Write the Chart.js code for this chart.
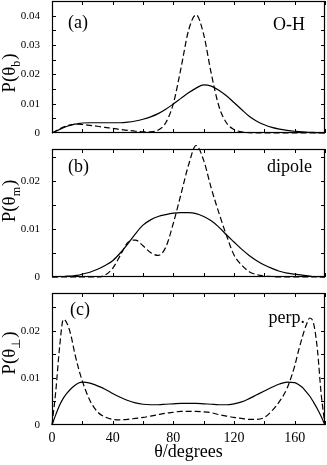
<!DOCTYPE html>
<html>
<head>
<meta charset="utf-8">
<script src="https://cdn.jsdelivr.net/npm/chart.js@4.4.1/dist/chart.umd.min.js"></script>
<style>
  html, body { margin: 0; padding: 0; background: #fff; }
  #wrap { position: relative; width: 327px; height: 465px; overflow: hidden; }
  #wrap canvas { position: absolute; left: 0; }
</style>
</head>
<body>
<div id="wrap">
  <canvas id="panelA" width="327" height="140" style="top:0px"></canvas>
  <canvas id="panelB" width="327" height="141" style="top:143px"></canvas>
  <canvas id="panelC" width="327" height="175" style="top:290px"></canvas>
</div>
<script>
// angle grid (degrees), finer near the ends where the perp. peaks sit
const theta = [0, 2.5, 5, 7.5, 10, 12.5, 15, 17.5, 20,
  25, 30, 35, 40, 45, 50, 55, 60, 65, 70,
  75, 80, 85, 90, 95, 100, 105, 110, 115, 120,
  125, 130, 135, 140, 145, 150, 155,
  160, 162.5, 165, 167.5, 170, 172.5, 175, 177.5, 180];

// (a) O-H
const ohSolid = [0, 0.0006, 0.0012, 0.0018, 0.0023, 0.0027, 0.0030, 0.0032, 0.0034,
  0.0035, 0.0035, 0.0035, 0.0035, 0.0035, 0.0037, 0.0041, 0.0047, 0.0055, 0.0066,
  0.0081, 0.0099, 0.0118, 0.0137, 0.0153, 0.0164, 0.0160, 0.0146, 0.0127, 0.0104,
  0.0080, 0.0057, 0.0040, 0.0028, 0.0019, 0.0013, 0.0009,
  0.0006, 0.0005, 0.0004, 0.0003, 0.0002, 0.0002, 0.0001, 0.0001, 0];
const ohDashed = [0, 0.0007, 0.0014, 0.0020, 0.0025, 0.0028, 0.0030, 0.0030, 0.0029,
  0.0026, 0.0023, 0.0019, 0.0016, 0.0012, 0.0009, 0.0006, 0.0004, 0.0004, 0.0010,
  0.0035, 0.0100, 0.0220, 0.0349, 0.0403, 0.0336, 0.0203, 0.0092, 0.0035, 0.0012,
  0.0004, 0.0001, 0, 0, 0, 0, 0,
  0, 0, 0, 0, 0, 0, 0, 0, 0];

// (b) dipole
const dipoleSolid = [0, 0, 0.0001, 0.0001, 0.0002, 0.0002, 0.0003, 0.0004, 0.0006,
  0.0010, 0.0016, 0.0024, 0.0034, 0.0050, 0.0069, 0.0090, 0.0108, 0.0119, 0.0126,
  0.0130, 0.0133, 0.0134, 0.0134, 0.0132, 0.0126, 0.0117, 0.0104, 0.0088, 0.0073,
  0.0058, 0.0045, 0.0034, 0.0025, 0.0018, 0.0012, 0.0008,
  0.0006, 0.0005, 0.0004, 0.0003, 0.0002, 0.0001, 0.0001, 0, 0];
const dipoleDashed = [0, 0, 0, 0, 0, 0, 0, 0, 0,
  0, 0, 0.0004, 0.0018, 0.0045, 0.0072, 0.0077, 0.0065, 0.0051, 0.0045,
  0.0062, 0.0112, 0.0172, 0.0233, 0.0274, 0.0243, 0.0185, 0.0134, 0.0087, 0.0046,
  0.0025, 0.0011, 0.0005, 0.0002, 0.0001, 0, 0,
  0, 0, 0, 0, 0, 0, 0, 0, 0];

// (c) perp.
const perpSolid = [0, 0.0022, 0.0042, 0.0057, 0.0068, 0.0077, 0.0084, 0.0089, 0.0091,
  0.0089, 0.0083, 0.0076, 0.0067, 0.0059, 0.0052, 0.0047, 0.0044, 0.0043, 0.0043,
  0.0044, 0.0045, 0.0046, 0.0046, 0.0046, 0.0045, 0.0044, 0.0043, 0.0043, 0.0045,
  0.0049, 0.0056, 0.0064, 0.0072, 0.0080, 0.0087, 0.0091,
  0.0090, 0.0086, 0.0080, 0.0071, 0.0061, 0.0048, 0.0034, 0.0018, 0];
const perpDashed = [0, 0.0072, 0.0165, 0.0224, 0.0215, 0.0190, 0.0152, 0.0120, 0.0093,
  0.0052, 0.0028, 0.0017, 0.0012, 0.0011, 0.0012, 0.0014, 0.0016, 0.0019, 0.0022,
  0.0025, 0.0027, 0.0029, 0.0029, 0.0029, 0.0028, 0.0026, 0.0022, 0.0019, 0.0016,
  0.0014, 0.0012, 0.0012, 0.0016, 0.0030, 0.0050, 0.0078,
  0.0125, 0.0157, 0.0186, 0.0211, 0.0227, 0.0215, 0.0160, 0.0065, 0];

// tick values
const xTickLabels = [0, 40, 80, 120, 160];
const xTickMarks = [0, 20, 40, 60, 80, 100, 120, 140, 160, 180];
const yTicksA = [0, 0.01, 0.02, 0.03, 0.04];
const yTicksBC = [0, 0.01, 0.02];
const yMarksA = [0.005, 0.01, 0.015, 0.02, 0.025, 0.03, 0.035, 0.04];
const yMarksBC = [0.005, 0.01, 0.015, 0.02, 0.025];

const SERIF = '"Liberation Serif", "Times New Roman", serif';

const pts = (ys) => theta.map((t, i) => ({ x: t, y: ys[i] }));

// frame, inward ticks on all sides, in-panel labels and the y title with subscript
const panelDecor = {
  id: 'panelDecor',
  afterDraw(chart, args, o) {
    const { ctx, chartArea: a, scales: { x, y } } = chart;
    ctx.save();
    ctx.strokeStyle = '#000';
    ctx.lineWidth = 1;
    ctx.beginPath();
    xTickMarks.forEach(t => {
      const px = Math.round(x.getPixelForValue(t)) + 0.5;
      ctx.moveTo(px, a.top); ctx.lineTo(px, a.top + 4);
      ctx.moveTo(px, a.bottom); ctx.lineTo(px, a.bottom - 4);
    });
    o.yMarks.forEach(v => {
      const py = Math.round(y.getPixelForValue(v)) + 0.5;
      ctx.moveTo(a.left, py); ctx.lineTo(a.left + 4, py);
      ctx.moveTo(a.right, py); ctx.lineTo(a.right - 4, py);
    });
    ctx.stroke();
    ctx.lineWidth = 1.2;
    ctx.strokeRect(a.left + 0.5, a.top + 0.5, a.width - 1, a.height - 1);

    ctx.fillStyle = '#000';
    ctx.textBaseline = 'alphabetic';
    ctx.font = '18px ' + SERIF;
    ctx.textAlign = 'left';
    ctx.fillText(o.tag, a.left + o.tagX, a.top + o.tagY);
    ctx.textAlign = 'right';
    ctx.fillText(o.name, a.left + o.nameX, a.top + o.nameY);

    // rotated "P(θ_sub)"
    ctx.translate(o.titleX, a.top + o.titleY);
    ctx.rotate(-Math.PI / 2);
    ctx.textAlign = 'left';
    const big = '19px ' + SERIF, small = '12px ' + SERIF;
    ctx.font = big;
    const w1 = ctx.measureText('P(θ').width;
    const w3 = ctx.measureText(')').width;
    ctx.font = small;
    const w2 = ctx.measureText(o.sub).width + 1;
    let cx = -(w1 + w2 + w3) / 2;
    ctx.font = big; ctx.fillText('P(θ', cx, 0); cx += w1;
    ctx.font = small; ctx.fillText(o.sub, cx, 5); cx += w2;
    ctx.font = big; ctx.fillText(')', cx, 0);
    ctx.restore();
  }
};

function makePanel(id, solid, dashed, yMax, yTicks, decor, padding, showX) {
  const ctx = document.getElementById(id).getContext('2d');
  return new Chart(ctx, {
    type: 'line',
    data: {
      datasets: [
        { data: pts(solid), borderColor: '#000', borderWidth: 1.2, pointRadius: 0,
          cubicInterpolationMode: 'monotone', clip: false },
        { data: pts(dashed), borderColor: '#000', borderWidth: 1.2, pointRadius: 0,
          borderDash: [6, 3], cubicInterpolationMode: 'monotone', clip: false }
      ]
    },
    options: {
      responsive: false,
      animation: false,
      events: [],
      layout: { padding: padding },
      plugins: { legend: { display: false }, tooltip: { enabled: false }, panelDecor: decor },
      scales: {
        x: {
          type: 'linear', min: 0, max: 180,
          display: showX,
          grid: { display: false },
          border: { display: false },
          afterBuildTicks: (s) => { s.ticks = xTickLabels.map(v => ({ value: v })); },
          afterFit: (s) => {
            if (showX) s.height = 40;
            s.paddingLeft = 0; s.paddingRight = 0;
          },
          ticks: { color: '#000', padding: -3, maxRotation: 0, autoSkip: false,
            font: { family: SERIF, size: 14 } },
          title: { display: showX, text: 'θ/degrees', color: '#000', padding: { top: 0, bottom: 2 },
            font: { family: SERIF, size: 18 } }
        },
        y: {
          min: 0, max: yMax,
          grid: { display: false },
          border: { display: false },
          afterBuildTicks: (s) => { s.ticks = yTicks.map(v => ({ value: v })); },
          afterFit: (s) => {
            s.width = 52;
            s.paddingTop = 0; s.paddingBottom = 0;
          },
          ticks: { color: '#000', padding: 4, font: { family: SERIF, size: 11 },
            callback: (v) => v === 0 ? '0' : v.toFixed(2) }
        }
      }
    },
    plugins: [panelDecor]
  });
}

makePanel('panelA', ohSolid, ohDashed, 0.045, yTicksA,
  { yMarks: yMarksA, tag: '(a)', tagX: 16, tagY: 27, name: 'O-H', nameX: 253, nameY: 29,
    sub: 'b', titleX: 15, titleY: 72 },
  { top: 1, bottom: 7, right: 2, left: 0 }, false);

makePanel('panelB', dipoleSolid, dipoleDashed, 0.02667, yTicksBC,
  { yMarks: yMarksBC, tag: '(b)', tagX: 16, tagY: 23, name: 'dipole', nameX: 260, nameY: 23,
    sub: 'm', titleX: 15, titleY: 52 },
  { top: 6, bottom: 7, right: 2, left: 0 }, false);

makePanel('panelC', perpSolid, perpDashed, 0.028, yTicksBC,
  { yMarks: yMarksBC, tag: '(c)', tagX: 18, tagY: 22, name: 'perp.', nameX: 253, nameY: 30,
    sub: '⊥', titleX: 15, titleY: 60 },
  { top: 3, bottom: 0, right: 2, left: 0 }, true);
</script>
</body>
</html>
